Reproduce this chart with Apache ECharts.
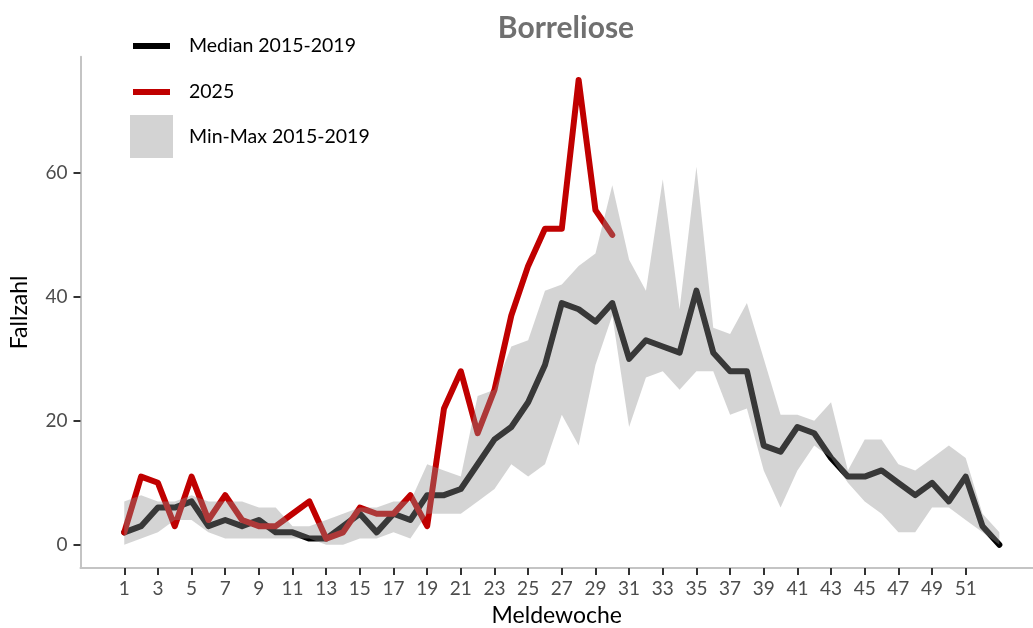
<!DOCTYPE html>
<html>
<head>
<meta charset="utf-8">
<script src="https://cdn.jsdelivr.net/npm/echarts@6/dist/echarts.min.js"></script>
<style>
html,body{margin:0;padding:0;background:#fff;}
#chart{width:1033px;height:628px;}
</style>
</head>
<body>
<div id="chart"></div>
<script>
const weeks = [1,2,3,4,5,6,7,8,9,10,11,12,13,14,15,16,17,18,19,20,21,22,23,24,25,26,27,28,29,30,31,32,33,34,35,36,37,38,39,40,41,42,43,44,45,46,47,48,49,50,51,52,53];
const median = [2,3,6,6,7,3,4,3,4,2, 2,1,1,3,5,2,5,4,8,8, 9,13,17,19,23,29,39,38,36,39, 30,33,32,31,41,31,28,28,16,15, 19,18,14,11,11,12,10,8,10,7, 11,3,0];
const maxVals = [7,8,7,7,8,7,7,7,6,6, 3,3,4,5,6,6,7,7,13,12, 11,24,25,32,33,41,42,45,47,58, 46,41,59,38,61,35,34,39,30,21, 21,20,23,12,17,17,13,12,14,16, 14,5,2];
const minVals = [0,1,2,4,4,2,1,1,1,1, 1,1,0,0,1,1,2,1,5,5, 5,7,9,13,11,13,21,16,29,37, 19,27,28,25,28,28,21,22,12,6, 12,16,14,10,7,5,2,2,6,6, 4,2,0];
const cases2025 = [2,11,10,3,11,4,8,4,3,3, 5,7,1,2,6,5,5,8,3,22, 28,18,25,37,45,51,51,75,54,50];
const xTicks = [1,3,5,7,9,11,13,15,17,19,21,23,25,27,29,31,33,35,37,39,41,43,45,47,49,51];
const yTicks = [0,20,40,60];
const legendLabels = ['Median 2015-2019','2025','Min-Max 2015-2019'];

const FONT = 'Lato, "Noto Sans", sans-serif';
const chart = echarts.init(document.getElementById('chart'), null, {renderer:'canvas'});

const medianData = weeks.map((w,i)=>[w, median[i]]);
const redData = cases2025.map((v,i)=>[weeks[i], v]);
const bandData = weeks.map((w,i)=>[w, minVals[i], maxVals[i]]);

function renderBand(params, api){
  if (params.dataIndex !== 0) return null;
  const top = [], bottom = [];
  for (let i = 0; i < bandData.length; i++){
    top.push(api.coord([bandData[i][0], bandData[i][2]]));
    bottom.push(api.coord([bandData[i][0], bandData[i][1]]));
  }
  const pts = top.concat(bottom.reverse());
  return {
    type:'polygon',
    shape:{points:pts},
    style:{fill:'rgba(143,143,143,0.39)'}
  };
}

const option = {
  animation:false,
  backgroundColor:'#ffffff',
  title:{
    text:'Borreliose', left:561, top:8, textAlign:'center',
    textStyle:{fontFamily:FONT, fontSize:30, fontWeight:'bold', color:'#707070'}
  },
  grid:{left:80.5, right:0, top:56.75, bottom:60, containLabel:false, outerBoundsMode:'none'},
  xAxis:{
    type:'value', min:-1.6, max:55,
    name:'Meldewoche', nameLocation:'middle', nameGap:36,
    nameTextStyle:{fontFamily:FONT, fontSize:23, color:'#000'},
    axisLine:{onZero:false, lineStyle:{color:'#c4c4c4', width:2}},
    axisTick:{customValues:xTicks, length:7, lineStyle:{color:'#333', width:2}},
    axisLabel:{customValues:xTicks, fontFamily:FONT, fontSize:19, color:'#4d4d4d', margin:11},
    splitLine:{show:false}
  },
  yAxis:{
    type:'value', min:-3.75, max:78.75,
    name:'Fallzahl', nameLocation:'middle', nameGap:49, nameRotate:90,
    nameTextStyle:{fontFamily:FONT, fontSize:23, color:'#000'},
    axisLine:{show:true, onZero:false, lineStyle:{color:'#c4c4c4', width:2}},
    axisTick:{show:true, customValues:yTicks, length:7, lineStyle:{color:'#333', width:2}},
    axisLabel:{customValues:yTicks, fontFamily:FONT, fontSize:19, color:'#4d4d4d', margin:13},
    splitLine:{show:false}
  },
  series:[
    {name:legendLabels[0], type:'line', data:medianData, symbol:'none', z:2,
     lineStyle:{color:'#000000', width:6, cap:'round', join:'round'}},
    {name:legendLabels[1], type:'line', data:redData, symbol:'none', z:3,
     lineStyle:{color:'#c00000', width:6, cap:'round', join:'round'}},
    {name:legendLabels[2], type:'custom', data:bandData, renderItem:renderBand, z:4, silent:true,
     encode:{x:0, y:[1,2]}}
  ],
  graphic:[
    {type:'line', shape:{x1:133, y1:46, x2:170, y2:46}, style:{stroke:'#000', lineWidth:6}},
    {type:'text', x:189, y:46, style:{text:legendLabels[0], fontFamily:FONT, fontSize:19.5, fill:'#000', verticalAlign:'middle'}},
    {type:'line', shape:{x1:133, y1:92, x2:170, y2:92}, style:{stroke:'#c00000', lineWidth:6}},
    {type:'text', x:189, y:92, style:{text:legendLabels[1], fontFamily:FONT, fontSize:19.5, fill:'#000', verticalAlign:'middle'}},
    {type:'rect', shape:{x:130, y:115, width:43, height:43}, style:{fill:'#d3d3d3'}},
    {type:'text', x:189, y:137, style:{text:legendLabels[2], fontFamily:FONT, fontSize:19.5, fill:'#000', verticalAlign:'middle'}}
  ]
};
chart.setOption(option);
</script>
</body>
</html>
